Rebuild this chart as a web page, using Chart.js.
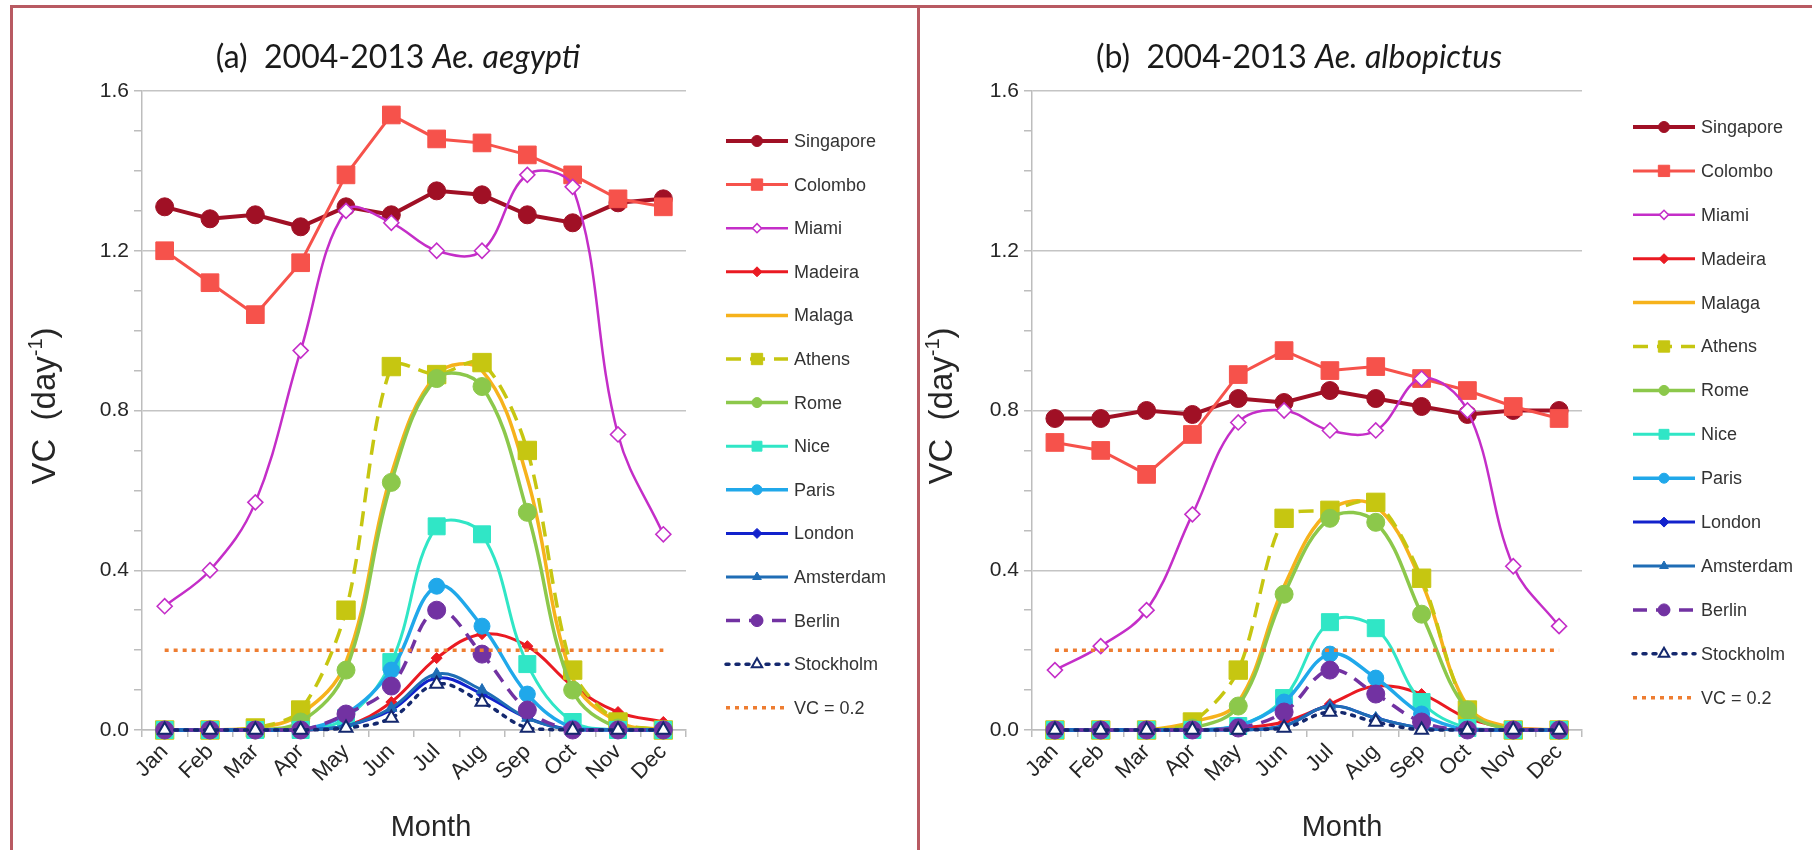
<!DOCTYPE html>
<html><head><meta charset="utf-8">
<script src="https://cdn.jsdelivr.net/npm/chart.js@4.4.1/dist/chart.umd.min.js"></script>
<style>
html,body{margin:0;padding:0;background:#fff;width:1812px;height:850px;overflow:hidden;}
.wrap{position:absolute;top:0;height:850px;}
.fr{position:absolute;background:#b85a62;}
</style></head><body>
<div class="wrap" style="left:0;width:917px"><canvas id="cA" width="917" height="850" style="width:917px;height:850px"></canvas></div>
<div class="wrap" style="left:920px;width:892px"><canvas id="cB" width="892" height="850" style="width:892px;height:850px"></canvas></div>
<div class="fr" style="left:10px;top:5px;width:1802px;height:3px"></div>
<div class="fr" style="left:10px;top:5px;width:3px;height:845px"></div>
<div class="fr" style="left:917px;top:5px;width:3px;height:845px"></div>
<script>
// ---------- data ----------
const months = ['Jan','Feb','Mar','Apr','May','Jun','Jul','Aug','Sep','Oct','Nov','Dec'];
const cities = ['Singapore','Colombo','Miami','Madeira','Malaga','Athens','Rome','Nice','Paris','London','Amsterdam','Berlin','Stockholm','VC = 0.2'];
const yTickValues = [0.0, 0.4, 0.8, 1.2, 1.6];

// (a) Ae. aegypti
const singaporeA = [1.31,1.28,1.29,1.26,1.31,1.29,1.35,1.34,1.29,1.27,1.32,1.33];
const colomboA   = [1.20,1.12,1.04,1.17,1.39,1.54,1.48,1.47,1.44,1.39,1.33,1.31];
const miamiA     = [0.31,0.40,0.57,0.95,1.30,1.27,1.20,1.20,1.39,1.36,0.74,0.49];
const madeiraA   = [0,0,0,0,0.01,0.07,0.18,0.24,0.21,0.11,0.045,0.02];
const malagaA    = [0,0,0.005,0.04,0.17,0.64,0.89,0.90,0.63,0.13,0.02,0];
const athensA    = [0,0,0.005,0.05,0.30,0.91,0.89,0.92,0.70,0.15,0.02,0];
const romeA      = [0,0,0,0.02,0.15,0.62,0.88,0.86,0.545,0.10,0.005,0];
const niceA      = [0,0,0,0,0.03,0.17,0.51,0.49,0.165,0.02,0,0];
const parisA     = [0,0,0,0,0.04,0.15,0.36,0.26,0.09,0.005,0,0];
const londonA    = [0,0,0,0,0.01,0.05,0.13,0.09,0.03,0,0,0];
const amsterdamA = [0,0,0,0,0.01,0.055,0.14,0.10,0.03,0,0,0];
const berlinA    = [0,0,0,0,0.04,0.11,0.30,0.19,0.05,0,0,0];
const stockholmA = [0,0,0,0,0.005,0.03,0.115,0.07,0.005,0,0,0];

// (b) Ae. albopictus
const singaporeB = [0.78,0.78,0.80,0.79,0.83,0.82,0.85,0.83,0.81,0.79,0.80,0.80];
const colomboB   = [0.72,0.70,0.64,0.74,0.89,0.95,0.90,0.91,0.88,0.85,0.81,0.78];
const miamiB     = [0.15,0.21,0.30,0.54,0.77,0.80,0.75,0.75,0.88,0.80,0.41,0.26];
const madeiraB   = [0,0,0,0,0.005,0.02,0.065,0.11,0.09,0.03,0.005,0];
const malagaB    = [0,0,0,0.02,0.07,0.36,0.55,0.56,0.37,0.06,0.005,0];
const athensB    = [0,0,0,0.02,0.15,0.53,0.55,0.57,0.38,0.05,0,0];
const romeB      = [0,0,0,0.005,0.06,0.34,0.53,0.52,0.29,0.05,0,0];
const niceB      = [0,0,0,0,0.01,0.08,0.27,0.255,0.07,0.005,0,0];
const parisB     = [0,0,0,0,0.01,0.07,0.19,0.13,0.04,0,0,0];
const londonB    = [0,0,0,0,0,0.01,0.06,0.03,0.005,0,0,0];
const amsterdamB = [0,0,0,0,0,0.01,0.06,0.03,0.005,0,0,0];
const berlinB    = [0,0,0,0,0.005,0.045,0.15,0.09,0.02,0,0,0];
const stockholmB = [0,0,0,0,0,0.005,0.045,0.02,0,0,0,0];

const vcThreshold = [0.2,0.2,0.2,0.2,0.2,0.2,0.2,0.2,0.2,0.2,0.2,0.2];

const seriesA = [singaporeA,colomboA,miamiA,madeiraA,malagaA,athensA,romeA,niceA,parisA,londonA,amsterdamA,berlinA,stockholmA,vcThreshold];
const seriesB = [singaporeB,colomboB,miamiB,madeiraB,malagaB,athensB,romeB,niceB,parisB,londonB,amsterdamB,berlinB,stockholmB,vcThreshold];

// ---------- styles ----------
const styles = [
  {c:'#a01025', w:4,   dash:[],     t:0,    ps:'circle',  r:9,  fill:null,  bw:1, lr:5.5},
  {c:'#f6524b', w:3,   dash:[],     t:0,    ps:'rect',    r:12.5, fill:null, bw:1, lr:8},
  {c:'#c42ec8', w:2.5, dash:[],     t:0.38, ps:'rectRot', r:7.5,  fill:'#ffffff', bw:1.6, lr:4.5},
  {c:'#ea1a22', w:3,   dash:[],     t:0.38, ps:'rectRot', r:5.5,  fill:null,  bw:1, lr:5},
  {c:'#f6b21c', w:3.5, dash:[],     t:0.38, ps:'circle',  r:0,  fill:null,  bw:0, lr:0},
  {c:'#c6c611', w:3.5, dash:[15,9], t:0.3,  ps:'rect',    r:13, fill:null,  bw:1, lr:8},
  {c:'#8cc84b', w:3.5, dash:[],     t:0.38, ps:'circle',  r:9,  fill:null,  bw:1, lr:5},
  {c:'#30e6c6', w:3,   dash:[],     t:0.38, ps:'rect',    r:12, fill:null,  bw:1, lr:7},
  {c:'#20a8ea', w:3.5, dash:[],     t:0.38, ps:'circle',  r:8,  fill:null,  bw:1, lr:5},
  {c:'#1222cc', w:3,   dash:[],     t:0.38, ps:'rectRot', r:5.5,  fill:null,  bw:1, lr:5},
  {c:'#1f6db5', w:3,   dash:[],     t:0.38, ps:'triangle',r:6.5,  fill:null,  bw:1, lr:5},
  {c:'#7232a2', w:3.5, dash:[14,9], t:0.38, ps:'circle',  r:9,  fill:null,  bw:1, lr:6},
  {c:'#14286e', w:3.5, dash:[3,7],  t:0.38, ps:'triangle',r:7.5,  fill:'#ffffff', bw:2, lr:6},
  {c:'#ee7d31', w:3.5, dash:[4,5],  t:0,    ps:'circle',  r:0,  fill:null,  bw:0, lr:0}
];

function drawMarker(ctx, st, x, y, r) {
  if (r <= 0) return;
  ctx.save();
  ctx.setLineDash([]);
  ctx.fillStyle = st.fill || st.c;
  ctx.strokeStyle = st.c;
  ctx.lineWidth = st.bw;
  Chart.helpers.drawPoint(ctx, {pointStyle: st.ps, radius: r, rotation: 0, borderWidth: st.bw}, x, y);
  ctx.restore();
}

function makePanel(canvasId, series, L) {
  const N = series.length;
  const datasets = series.map((vals, i) => {
    const st = styles[i];
    return {
      label: cities[i],
      data: vals,
      borderColor: st.c,
      backgroundColor: st.c,
      borderWidth: st.w,
      borderDash: st.dash,
      borderCapStyle: (i === 12) ? 'round' : 'butt',
      tension: st.t,
      pointStyle: st.ps,
      pointRadius: st.r,
      pointHoverRadius: st.r,
      pointBackgroundColor: st.fill || st.c,
      pointBorderColor: st.c,
      pointBorderWidth: st.bw,
      order: N - i,
      clip: false
    };
  });

  const decor = {
    id: 'decor',
    afterDraw(chart) {
      const ctx = chart.ctx;
      ctx.save();
      // title
      ctx.fillStyle = '#1a1a1a';
      ctx.textBaseline = 'middle';
      const f1 = '32px Lato, "Open Sans", sans-serif';
      const f2 = 'italic 32px Lato, "Open Sans", sans-serif';
      ctx.font = f1; const w1 = ctx.measureText(L.title1).width;
      ctx.font = f2; const w2 = ctx.measureText(L.title2).width;
      let x0 = L.titleX - (w1 + w2) / 2;
      ctx.textAlign = 'left';
      ctx.font = f1; ctx.fillText(L.title1, x0, L.titleY);
      ctx.font = f2; ctx.fillText(L.title2, x0 + w1, L.titleY);

      // y title
      ctx.save();
      ctx.translate(L.yTitleX, L.yTitleY);
      ctx.rotate(-Math.PI / 2);
      const fy = '33px "Liberation Sans", Arial, sans-serif';
      const fs = '20px "Liberation Sans", Arial, sans-serif';
      const p1 = 'VC  (day', p2 = '-1', p3 = ')';
      ctx.font = fy; const a1 = ctx.measureText(p1).width, a3 = ctx.measureText(p3).width;
      ctx.font = fs; const a2 = ctx.measureText(p2).width;
      let sx = -(a1 + a2 + a3) / 2;
      ctx.fillStyle = '#262626';
      ctx.textAlign = 'left';
      ctx.font = fy; ctx.fillText(p1, sx, 0);
      ctx.font = fs; ctx.fillText(p2, sx + a1, -10);
      ctx.font = fy; ctx.fillText(p3, sx + a1 + a2, 0);
      ctx.restore();

      // x title
      ctx.font = '29px "Liberation Sans", Arial, sans-serif';
      ctx.textAlign = 'center';
      ctx.fillStyle = '#262626';
      ctx.fillText('Month', L.xTitleX, L.xTitleY);

      // legend
      for (let i = 0; i < N; i++) {
        const st = styles[i];
        const y = L.legY + i * L.legSp;
        ctx.save();
        ctx.strokeStyle = st.c;
        ctx.lineWidth = st.w;
        ctx.setLineDash(st.dash);
        ctx.lineCap = (i === 12) ? 'round' : 'butt';
        ctx.beginPath();
        ctx.moveTo(L.legX, y);
        ctx.lineTo(L.legX + L.legLen, y);
        ctx.stroke();
        ctx.restore();
        drawMarker(ctx, st, L.legX + L.legLen / 2, y, st.lr);
        ctx.font = '18px "Liberation Sans", Arial, sans-serif';
        ctx.textAlign = 'left';
        ctx.fillStyle = '#333333';
        ctx.fillText(cities[i], L.legX + L.legLen + 6, y + 1);
      }
      ctx.restore();
    }
  };

  return new Chart(document.getElementById(canvasId), {
    type: 'line',
    data: { labels: months, datasets },
    options: {
      responsive: false,
      animation: false,
      devicePixelRatio: 1,
      layout: { padding: { left: 0, right: L.padRight, top: L.top, bottom: 0 } },
      elements: { line: { capBezierPoints: true } },
      plugins: { legend: { display: false }, tooltip: { enabled: false }, title: { display: false } },
      scales: {
        x: {
          type: 'category',
          offset: true,
          grid: { offset: true, drawOnChartArea: false, drawTicks: true, tickLength: 7, tickColor: '#bdbdbd', lineWidth: 1.5 },
          border: { display: true, color: '#bdbdbd', width: 1.5 },
          ticks: { maxRotation: 45, minRotation: 45, autoSkip: false, padding: 2, color: '#262626',
                   font: { family: '"Liberation Sans", Arial, sans-serif', size: 22 } },
          afterFit(s) { s.height = 850 - L.bottom; }
        },
        y: {
          min: 0, max: 1.6,
          afterBuildTicks(s) {
            const t = [];
            for (let k = 0; k <= 16; k++) t.push({ value: Math.round(k) / 10 });
            s.ticks = t;
          },
          grid: {
            drawTicks: true, tickLength: 8, tickColor: '#bdbdbd', lineWidth: 1.5,
            color: (c) => {
              const v = Math.round((c.tick ? c.tick.value : 0) * 10);
              return (v % 4 === 0) ? '#c4c4c4' : 'rgba(0,0,0,0)';
            }
          },
          border: { display: true, color: '#bdbdbd', width: 1.5 },
          ticks: {
            autoSkip: false, padding: 5, color: '#262626',
            font: { family: '"Liberation Sans", Arial, sans-serif', size: 21 },
            callback: (v) => {
              const k = Math.round(v * 10);
              const idx = yTickValues.findIndex(t => Math.round(t * 10) === k);
              return idx >= 0 ? yTickValues[idx].toFixed(1) : '';
            }
          },
          afterFit(s) { s.width = L.axisX; }
        }
      }
    },
    plugins: [decor]
  });
}

makePanel('cA', seriesA, {
  axisX: 142, padRight: 917 - 686, top: 91, bottom: 730,
  title1: '(a)  2004-2013 ', title2: 'Ae. aegypti', titleX: 398, titleY: 58,
  yTitleX: 46, yTitleY: 406, xTitleX: 431, xTitleY: 828,
  legX: 726, legLen: 62, legY: 141, legSp: 43.6
});
makePanel('cB', seriesB, {
  axisX: 112, padRight: 892 - 662, top: 91, bottom: 730,
  title1: '(b)  2004-2013 ', title2: 'Ae. albopictus', titleX: 379, titleY: 58,
  yTitleX: 23, yTitleY: 406, xTitleX: 422, xTitleY: 828,
  legX: 713, legLen: 62, legY: 127, legSp: 43.9
});
</script>
</body></html>
